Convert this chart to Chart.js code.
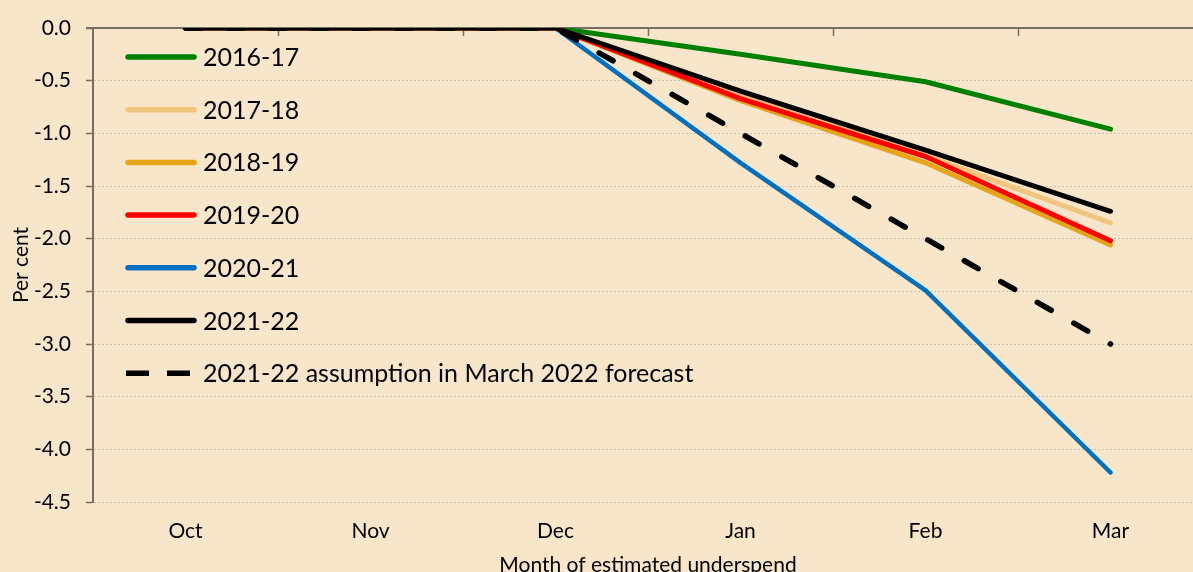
<!DOCTYPE html>
<html>
<head>
<meta charset="utf-8">
<title>Month of estimated underspend</title>
<script src="https://cdn.jsdelivr.net/npm/chart.js@4/dist/chart.umd.min.js"></script>
<style>
  html, body { margin: 0; padding: 0; overflow: hidden; background: #F8E6CA; }
  #wrap { width: 1203px; height: 572px; }
</style>
</head>
<body>
<div id="wrap"><canvas id="chart" width="1203" height="572"></canvas></div>
<script>
// Months of the financial year shown on the x axis
const months = ['Oct', 'Nov', 'Dec', 'Jan', 'Feb', 'Mar'];

// Cumulative estimated underspend, per cent
const fy1617 = [0, 0, 0, -0.25, -0.51, -0.96];
const fy1718 = [0, 0, 0, -0.64, -1.21, -1.85];
const fy1819 = [0, 0, 0, -0.69, -1.28, -2.06];
const fy1920 = [0, 0, 0, -0.67, -1.22, -2.02];
const fy2021 = [0, 0, 0, -1.28, -2.49, -4.22];
const fy2122 = [0, 0, 0, -0.60, -1.16, -1.74];
const fy2122Assumption = [0, 0, 0, -1.0, -2.0, -3.0];

// Legend labels
const seriesLabels = ['2016-17', '2017-18', '2018-19', '2019-20', '2020-21', '2021-22',
  '2021-22 assumption in March 2022 forecast'];

const FONT = 'Lato, "DejaVu Sans", sans-serif';
const AXIS = '#776d60';

// Zero line along the top of the plot with short marks between months
const zeroLine = {
  id: 'zeroLine',
  beforeDatasetsDraw(chart) {
    const { ctx, chartArea, scales: { x, y } } = chart;
    const y0 = y.getPixelForValue(0);
    ctx.save();
    ctx.strokeStyle = AXIS;
    ctx.lineWidth = 2;
    ctx.beginPath();
    ctx.moveTo(chartArea.left - 7, y0);
    ctx.lineTo(chartArea.right, y0);
    ctx.stroke();
    ctx.lineWidth = 1.5;
    for (let i = 1; i < months.length; i++) {
      const bx = Math.round((x.getPixelForValue(i - 1) + x.getPixelForValue(i)) / 2) + 0.5;
      ctx.beginPath();
      ctx.moveTo(bx, y0);
      ctx.lineTo(bx, y0 + 8);
      ctx.stroke();
    }
    ctx.restore();
  }
};

// Legend drawn inside the plot area, one row per series
const insideLegend = {
  id: 'insideLegend',
  afterDraw(chart) {
    const { ctx } = chart;
    const x1 = 128, x2 = 194, tx = 203, top = 57, step = 52.7;
    ctx.save();
    ctx.font = '25px ' + FONT;
    ctx.textBaseline = 'middle';
    ctx.textAlign = 'left';
    chart.data.datasets.forEach((ds, i) => {
      const yy = top + i * step;
      ctx.strokeStyle = ds.borderColor;
      ctx.lineWidth = 5.5;
      ctx.lineCap = ds.borderDash ? 'butt' : 'round';
      ctx.setLineDash(ds.borderDash ? [23, 18] : []);
      ctx.beginPath();
      if (ds.borderDash) {
        ctx.moveTo(x1 - 2, yy);
        ctx.lineTo(x2 - 2, yy);
      } else {
        ctx.moveTo(x1, yy);
        ctx.lineTo(x2, yy);
      }
      ctx.stroke();
      ctx.setLineDash([]);
      ctx.fillStyle = '#000';
      ctx.fillText(ds.label, tx, yy + 1);
    });
    ctx.restore();
  }
};

function series(label, data, color, order, extra) {
  return Object.assign({
    label, data, borderColor: color, backgroundColor: color,
    borderWidth: 5, pointRadius: 0, pointHoverRadius: 0, tension: 0,
    borderCapStyle: 'round', borderJoinStyle: 'round', order
  }, extra || {});
}

new Chart(document.getElementById('chart'), {
  type: 'line',
  data: {
    labels: months,
    datasets: [
      series(seriesLabels[0], fy1617, '#008000', 6),
      series(seriesLabels[1], fy1718, '#F2C57E', 5),
      series(seriesLabels[2], fy1819, '#E8A317', 4),
      series(seriesLabels[3], fy1920, '#FF0000', 2),
      series(seriesLabels[4], fy2021, '#0070C0', 3, { borderWidth: 4.5 }),
      series(seriesLabels[5], fy2122, '#000000', 0),
      series(seriesLabels[6], fy2122Assumption, '#000000', 1,
        { borderDash: [16, 26.02], borderWidth: 5.5 })
    ]
  },
  options: {
    responsive: false,
    animation: false,
    events: [],
    layout: { padding: { top: 28, right: 0, bottom: 0, left: 0 } },
    plugins: { legend: { display: false }, tooltip: { enabled: false } },
    scales: {
      x: {
        offset: true,
        afterFit(s) { s.height = 70; },
        border: { display: false },
        grid: { display: false, drawTicks: false },
        ticks: { color: '#000', padding: 17, font: { family: FONT, size: 21 } },
        title: {
          display: true, text: 'Month of estimated underspend', color: '#000',
          padding: 0, font: { family: FONT, size: 21, lineHeight: 0.6 }
        }
      },
      y: {
        min: -4.5, max: 0,
        afterFit(s) { s.width = 93; },
        border: { display: true, color: AXIS, width: 2, dash: [2, 2] },
        grid: {
          color: '#cbc2b4', lineWidth: 1, drawTicks: true, tickLength: 7,
          tickColor: AXIS, tickWidth: 1.5, tickBorderDash: []
        },
        ticks: {
          stepSize: 0.5, padding: 15, color: '#000',
          font: { family: FONT, size: 21 },
          callback: v => v.toFixed(1)
        },
        title: {
          display: true, text: 'Per cent', color: '#000',
          padding: { top: 11, bottom: 0 }, font: { family: FONT, size: 21, lineHeight: 1 }
        }
      }
    }
  },
  plugins: [zeroLine, insideLegend]
});
</script>
</body>
</html>
